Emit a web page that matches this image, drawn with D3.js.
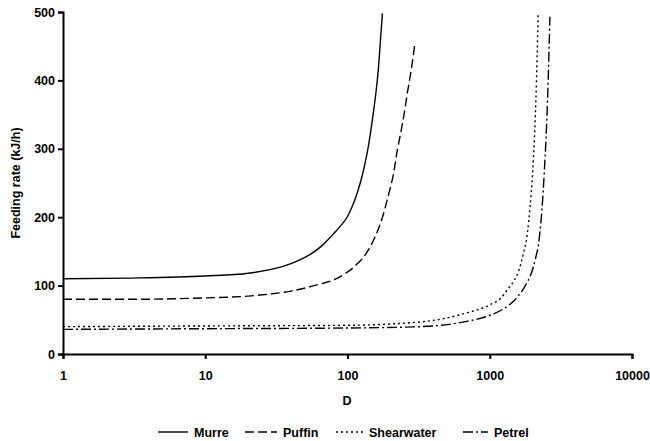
<!DOCTYPE html>
<html>
<head>
<meta charset="utf-8">
<script src="https://cdn.jsdelivr.net/npm/d3@7"></script>
<style>
  body { margin: 0; background: #fff; }
  text { font-family: "Liberation Sans", Arial, sans-serif; font-weight: bold; }
</style>
</head>
<body>
<div id="chart"></div>
<script>
const width = 650;
const height = 441;

// values: D (log scale) vs feeding rate (kJ/h)
const murreD    = [1, 3, 10, 20, 40, 55, 65, 72, 80, 90, 100, 106, 112, 118, 124, 130, 135, 140, 145, 150, 155, 160, 165, 170, 176];
const murreRate = [110, 111, 114, 118, 132, 146, 157, 166, 176, 188, 201, 212, 224, 238, 253, 270, 286, 303, 323, 344, 366, 390, 418, 455, 498];

const puffinD    = [1, 3, 10, 21, 40, 61, 85, 105, 120, 130, 142, 153, 165, 175, 190, 200, 210, 224, 235, 245, 255, 263, 272, 280, 290, 297];
const puffinRate = [80, 80, 82, 85, 92, 101, 111, 123, 134, 142, 154, 167, 183, 198, 225, 243, 262, 298, 320, 340, 362, 381, 398, 415, 436, 453];

const shearD    = [1, 10, 100, 330, 660, 1000, 1200, 1330, 1470, 1600, 1720, 1840, 1920, 2000, 2060, 2110, 2150, 2190];
const shearRate = [40, 41, 42, 47, 59, 72, 82, 94, 106, 122, 146, 177, 215, 264, 315, 371, 430, 496];

const petrelD    = [1, 10, 100, 330, 660, 1016, 1250, 1480, 1600, 1720, 1800, 1944, 2100, 2223, 2330, 2415, 2490, 2548, 2600, 2648];
const petrelRate = [36, 37, 38, 40, 47, 57, 66, 78, 86, 95, 102, 116, 140, 167, 212, 264, 318, 371, 430, 493];

const seriesNames = ["Murre", "Puffin", "Shearwater", "Petrel"];
const dashes = [null, "9,4", "2,3", "10,3,2,3"];

const xTicks = [1, 10, 100, 1000, 10000];
const yTicks = [0, 100, 200, 300, 400, 500];

const series = [
  { name: seriesNames[0], d: murreD, v: murreRate },
  { name: seriesNames[1], d: puffinD, v: puffinRate },
  { name: seriesNames[2], d: shearD, v: shearRate },
  { name: seriesNames[3], d: petrelD, v: petrelRate }
];

const svg = d3.select("#chart").append("svg")
    .attr("width", width)
    .attr("height", height);

const x = d3.scaleLog().domain([1, 10000]).range([63, 632]);
const y = d3.scaleLinear().domain([0, 500]).range([354, 12]);

const line = d3.line()
    .x(p => x(p[0]))
    .y(p => y(p[1]))
    .curve(d3.curveMonotoneX);

series.forEach((s, i) => {
    svg.append("path")
        .datum(d3.zip(s.d, s.v))
        .attr("d", line)
        .attr("fill", "none")
        .attr("stroke", "#000")
        .attr("stroke-width", 1.4)
        .attr("stroke-dasharray", dashes[i]);
});

// axes
const xAxis = svg.append("g")
    .attr("transform", `translate(0,${y(0)})`)
    .call(d3.axisBottom(x).tickValues(xTicks).tickFormat(d3.format("d")).tickSizeOuter(0).tickSize(5).tickPadding(12));

const yAxis = svg.append("g")
    .attr("transform", `translate(${x(1)},0)`)
    .call(d3.axisLeft(y).tickValues(yTicks).tickSizeOuter(0).tickSize(5).tickPadding(3));

[xAxis, yAxis].forEach(g => {
    g.select(".domain").attr("stroke", "#000").attr("stroke-width", 2);
    g.selectAll(".tick line").attr("stroke", "#000").attr("stroke-width", 2);
    g.selectAll(".tick text").attr("fill", "#000").style("font-size", "12.5px");
});

svg.append("text")
    .attr("x", 347)
    .attr("y", 405)
    .attr("text-anchor", "middle")
    .style("font-size", "12.5px")
    .text("D");

svg.append("text")
    .attr("transform", `translate(20,${(y(0) + y(500)) / 2}) rotate(-90)`)
    .attr("text-anchor", "middle")
    .style("font-size", "12.5px")
    .text("Feeding rate (kJ/h)");

// legend
const legendX = [158, 245, 336, 463];
const legendLen = [30, 32, 27, 25];
const legend = svg.append("g");
series.forEach((s, i) => {
    legend.append("line")
        .attr("x1", legendX[i])
        .attr("x2", legendX[i] + legendLen[i])
        .attr("y1", 432)
        .attr("y2", 432)
        .attr("stroke", "#000")
        .attr("stroke-width", 1.4)
        .attr("stroke-dasharray", dashes[i]);
    legend.append("text")
        .attr("x", legendX[i] + legendLen[i] + 6)
        .attr("y", 436.5)
        .style("font-size", "12.5px")
        .text(s.name);
});
</script>
</body>
</html>
